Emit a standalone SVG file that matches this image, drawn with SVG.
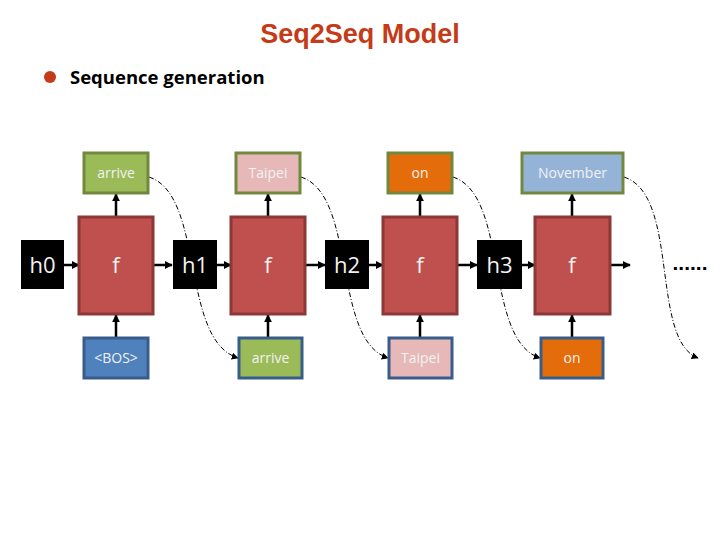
<svg xmlns="http://www.w3.org/2000/svg" width="720" height="540" viewBox="0 0 720 540">
<defs>
<style>
.f{fill:#C0504D;stroke:#8C3836;stroke-width:3}
.h{fill:#000}
.lbl{font-family:"Open Sans","Liberation Sans",sans-serif;fill:#F2F2F2;text-anchor:middle}
.sm{font-size:14px}
.big{font-size:22px}
.top{stroke:#71893F;stroke-width:3}
.bot{stroke:#385D8A;stroke-width:3}
.grn{fill:#9BBB59}.pnk{fill:#E6B9B8}.org{fill:#E46C0A}.blu{fill:#4F81BD}.lbl2{fill:#95B3D7}
.ar{stroke:#000;stroke-width:2.5;fill:none;marker-end:url(#ah)}
.dd{stroke:#000;stroke-width:1;fill:none;stroke-dasharray:5 2 1 2;marker-end:url(#ah2)}
</style>
<marker id="ah" viewBox="0 0 10 10" refX="9" refY="5" markerWidth="3.2" markerHeight="3.2" orient="auto"><path d="M0,0L10,5L0,10z" fill="#000"/></marker>
<marker id="ah2" viewBox="0 0 10 10" refX="9" refY="5" markerWidth="7" markerHeight="7" orient="auto" markerUnits="userSpaceOnUse"><path d="M0,0L10,5L0,10z" fill="#000"/></marker>
</defs>
<rect width="720" height="540" fill="#fff"/>
<text x="360" y="43" font-family="Liberation Sans,Arial,sans-serif" font-weight="bold" font-size="27" fill="#C53A17" text-anchor="middle">Seq2Seq Model</text>
<circle cx="50" cy="77" r="6" fill="#C53A17"/>
<text x="70" y="84" font-family="Open Sans,Liberation Sans,sans-serif" font-weight="bold" font-size="18.5" fill="#000">Sequence generation</text>

<g id="connectors">
<line class="ar" x1="64" y1="265" x2="79" y2="265"/>
<line class="ar" x1="153" y1="265" x2="172" y2="265"/>
<line class="ar" x1="217" y1="265" x2="231" y2="265"/>
<line class="ar" x1="305" y1="265" x2="325" y2="265"/>
<line class="ar" x1="369" y1="265" x2="383" y2="265"/>
<line class="ar" x1="457" y1="265" x2="477" y2="265"/>
<line class="ar" x1="522" y1="265" x2="535" y2="265"/>
<line class="ar" x1="610" y1="265" x2="630" y2="265"/>
<line class="ar" x1="116" y1="216" x2="116" y2="194"/>
<line class="ar" x1="268" y1="216" x2="268" y2="194"/>
<line class="ar" x1="420" y1="216" x2="420" y2="194"/>
<line class="ar" x1="572" y1="216" x2="572" y2="194"/>
<line class="ar" x1="116" y1="337" x2="116" y2="315"/>
<line class="ar" x1="268" y1="337" x2="268" y2="315"/>
<line class="ar" x1="420" y1="337" x2="420" y2="315"/>
<line class="ar" x1="572" y1="337" x2="572" y2="315"/>
<path class="dd" d="M149,177 C205,195 180,340 238,358"/>
<path class="dd" d="M301,177 C357,195 332,340 388,358"/>
<path class="dd" d="M453,177 C509,195 484,340 540,358"/>
<path class="dd" d="M624,177 C680,195 650,340 698,358"/>
</g>

<g id="h0"><rect class="h" x="21" y="240" width="43" height="49"/><text class="lbl big" x="42.5" y="273">h0</text></g>
<g id="h1"><rect class="h" x="173" y="240" width="44" height="49"/><text class="lbl big" x="195" y="273">h1</text></g>
<g id="h2"><rect class="h" x="325" y="240" width="44" height="49"/><text class="lbl big" x="347" y="273">h2</text></g>
<g id="h3"><rect class="h" x="477" y="240" width="45" height="49"/><text class="lbl big" x="499.5" y="273">h3</text></g>

<g id="f1"><rect class="f" x="79" y="217" width="74" height="97"/><text class="lbl big" x="116" y="273">f</text></g>
<g id="f2"><rect class="f" x="231" y="217" width="74" height="97"/><text class="lbl big" x="268" y="273">f</text></g>
<g id="f3"><rect class="f" x="383" y="217" width="74" height="97"/><text class="lbl big" x="420" y="273">f</text></g>
<g id="f4"><rect class="f" x="535" y="217" width="75" height="97"/><text class="lbl big" x="572" y="273">f</text></g>

<g id="out1"><rect class="grn top" x="84" y="153" width="64" height="40"/><text class="lbl sm" x="116" y="178">arrive</text></g>
<g id="out2"><rect class="pnk top" x="236" y="153" width="64" height="40"/><text class="lbl sm" x="268" y="178">Taipei</text></g>
<g id="out3"><rect class="org top" x="388" y="153" width="64" height="40"/><text class="lbl sm" x="420" y="178">on</text></g>
<g id="out4"><rect class="lbl2 top" x="522" y="153" width="101" height="40"/><text class="lbl sm" x="572.5" y="178">November</text></g>

<g id="in1"><rect class="blu bot" x="84" y="338" width="64" height="40"/><text class="lbl sm" x="116" y="363">&lt;BOS&gt;</text></g>
<g id="in2"><rect class="grn bot" x="239" y="338" width="63" height="40"/><text class="lbl sm" x="270.5" y="363">arrive</text></g>
<g id="in3"><rect class="pnk bot" x="389" y="338" width="63" height="40"/><text class="lbl sm" x="420.5" y="363">Taipei</text></g>
<g id="in4"><rect class="org bot" x="541" y="338" width="62" height="40"/><text class="lbl sm" x="572" y="363">on</text></g>

<text x="690" y="270" font-family="Liberation Sans,sans-serif" font-size="21" font-weight="bold" fill="#000" text-anchor="middle">......</text>
</svg>
